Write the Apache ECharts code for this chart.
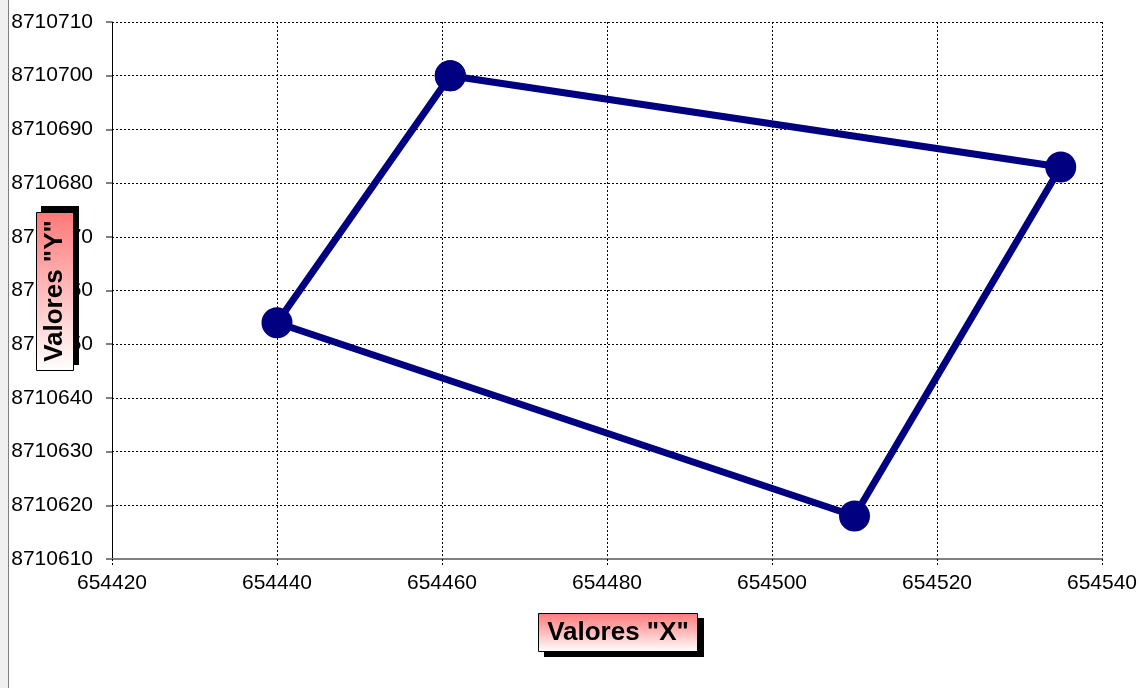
<!DOCTYPE html>
<html>
<head>
<meta charset="utf-8">
<script src="https://cdn.jsdelivr.net/npm/echarts@6/dist/echarts.min.js"></script>
<style>
  html, body { margin: 0; padding: 0; background: #fff; }
  #chart { width: 1141px; height: 688px; }
</style>
</head>
<body>
<div id="chart"></div>
<script>
// vertices of the polygon (closed back to the first one)
var xValues = [654461, 654535, 654510, 654440, 654461];
var yValues = [8710700, 8710683, 8710618, 8710654, 8710700];
var xTitle = 'Valores "X"';
var yTitle = 'Valores "Y"';

var points = xValues.map(function (x, i) { return [x, yValues[i]]; });

var chart = echarts.init(document.getElementById('chart'));

var titleFill = new echarts.graphic.LinearGradient(0, 0, 0, 1, [
  { offset: 0, color: '#ff7878' },
  { offset: 1, color: '#ffffff' }
]);
var titleFont = 'bold 26px Arial, sans-serif';
var plain = function (v) { return String(v); };

var option = {
  animation: false,
  grid: { left: 112, right: 39, top: 22, bottom: 129 },
  xAxis: {
    type: 'value',
    min: 654420,
    max: 654540,
    interval: 20,
    axisLine: { show: true, onZero: false, lineStyle: { color: '#808080', width: 2 } },
    axisTick: { show: true, length: 7, lineStyle: { color: '#000', type: [2, 2] } },
    axisLabel: { color: '#000', fontSize: 21, fontFamily: 'Arial', margin: 14, formatter: plain },
    splitLine: { show: true, lineStyle: { color: '#000', type: [2, 2], width: 1 } }
  },
  yAxis: {
    type: 'value',
    min: 8710610,
    max: 8710710,
    interval: 10,
    axisLine: { show: true, onZero: false, lineStyle: { color: '#000', width: 1 } },
    axisTick: { show: true, length: 6, lineStyle: { color: '#808080', width: 2 } },
    axisLabel: { color: '#000', fontSize: 21, fontFamily: 'Arial', margin: 19, formatter: plain },
    splitLine: { show: true, lineStyle: { color: '#000', type: [2, 2], width: 1 } }
  },
  series: [{
    type: 'line',
    data: points,
    symbol: 'circle',
    symbolSize: 31,
    lineStyle: { color: '#000080', width: 7 },
    itemStyle: { color: '#000080' },
    z: 5
  }],
  graphic: [
    // left window edge
    { type: 'rect', z: 1, shape: { x: 0, y: 0, width: 8, height: 688 }, style: { fill: '#f0f0f0' } },
    { type: 'line', z: 1, shape: { x1: 8.5, y1: 0, x2: 8.5, y2: 688 }, style: { stroke: '#808080', lineWidth: 1 } },
    // x title
    { type: 'rect', z: 100, shape: { x: 544, y: 618, width: 160, height: 39 }, style: { fill: '#000' } },
    { type: 'rect', z: 101, shape: { x: 538.5, y: 613.5, width: 159, height: 38 }, style: { fill: titleFill, stroke: '#000', lineWidth: 1 } },
    { type: 'text', z: 102, x: 618, y: 633, style: { text: xTitle, font: titleFont, fill: '#000', align: 'center', verticalAlign: 'middle' } },
    // y title
    { type: 'rect', z: 100, shape: { x: 41, y: 206, width: 38, height: 159 }, style: { fill: '#000' } },
    { type: 'rect', z: 101, shape: { x: 36.5, y: 212.5, width: 37, height: 158 }, style: { fill: titleFill, stroke: '#000', lineWidth: 1 } },
    { type: 'text', z: 102, x: 55, y: 291, rotation: Math.PI / 2, style: { text: yTitle, font: titleFont, fill: '#000', align: 'center', verticalAlign: 'middle' } }
  ]
};

chart.setOption(option);
</script>
</body>
</html>
